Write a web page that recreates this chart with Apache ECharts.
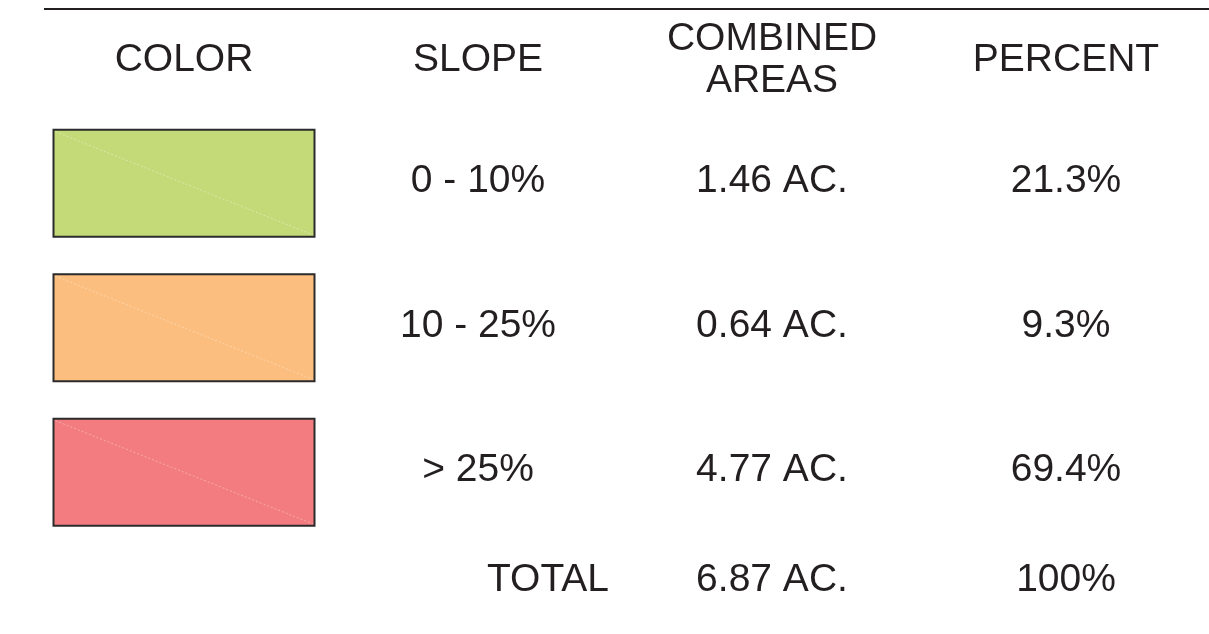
<!DOCTYPE html>
<html>
<head>
<meta charset="utf-8">
<script src="https://cdn.jsdelivr.net/npm/echarts@6/dist/echarts.min.js"></script>
<style>
  html, body { margin: 0; padding: 0; background: #fff; }
  #chart { width: 1209px; height: 634px; }
</style>
</head>
<body>
<div id="chart"></div>
<script>
// table columns and rows
const columns = ['COLOR', 'SLOPE', 'COMBINED\nAREAS', 'PERCENT'];
const slopes = ['0 - 10%', '10 - 25%', '> 25%', 'TOTAL'];
const areas = [1.46, 0.64, 4.77, 6.87];
const percents = [21.3, 9.3, 69.4, 100];
const swatches = ['#c4da78', '#fbbe7e', '#f27c7f'];

const FONT = '39px "Liberation Sans", Arial, sans-serif';
const INK = '#231f20';

// one item per cell: [column, row, text]
const cells = [];
slopes.forEach((s, i) => {
  if (i < swatches.length) cells.push([0, i, '']);
  cells.push([1, i, s]);
  cells.push([2, i, areas[i].toFixed(2) + ' AC.']);
  cells.push([3, i, percents[i] + '%']);
});

function renderCell(params, api) {
  const col = api.value(0);
  const row = api.value(1);
  const pt = api.coord([col, row]);
  const total = row === slopes.length - 1;
  const y = pt[1] + (total ? -35 : 0);
  if (col === 0) {
    const w = 261, h = 107;
    const x0 = pt[0] - w / 2, y0 = y - h / 2;
    return {
      type: 'group',
      children: [
        {
          type: 'rect',
          shape: { x: x0, y: y0, width: w, height: h },
          style: { fill: swatches[row], stroke: '#2b2b2b', lineWidth: 2 }
        },
        {
          type: 'line',
          shape: { x1: x0 + 2, y1: y0 + 2, x2: x0 + w - 2, y2: y0 + h - 2 },
          style: { stroke: 'rgba(255,255,255,0.35)', lineWidth: 1, lineDash: [2, 2] }
        }
      ]
    };
  }
  const dx = (col === 1 && total) ? 70 : 0;
  return {
    type: 'text',
    style: {
      text: api.value(2),
      x: pt[0] + dx,
      y: y - 2,
      font: FONT,
      fill: INK,
      align: 'center',
      verticalAlign: 'middle'
    }
  };
}

const chart = echarts.init(document.getElementById('chart'));
chart.setOption({
  animation: false,
  backgroundColor: '#fff',
  grid: { left: 37, top: 111, width: 1176, height: 578, outerBoundsMode: 'none', containLabel: false },
  xAxis: {
    type: 'category',
    data: columns,
    position: 'top',
    axisLine: { show: false },
    axisTick: { show: false },
    splitLine: { show: false },
    axisLabel: {
      margin: 51,
      fontSize: 39,
      fontFamily: '"Liberation Sans", Arial, sans-serif',
      color: INK,
      lineHeight: 42,
      verticalAlign: 'middle',
      interval: 0
    }
  },
  yAxis: {
    type: 'category',
    data: slopes,
    inverse: true,
    show: false
  },
  graphic: [
    {
      type: 'line',
      shape: { x1: 44, y1: 9, x2: 1209, y2: 9 },
      style: { stroke: '#231f20', lineWidth: 2 }
    }
  ],
  series: [
    {
      type: 'custom',
      renderItem: renderCell,
      encode: { x: 0, y: 1 },
      clip: false,
      silent: true,
      data: cells
    }
  ]
});
</script>
</body>
</html>
